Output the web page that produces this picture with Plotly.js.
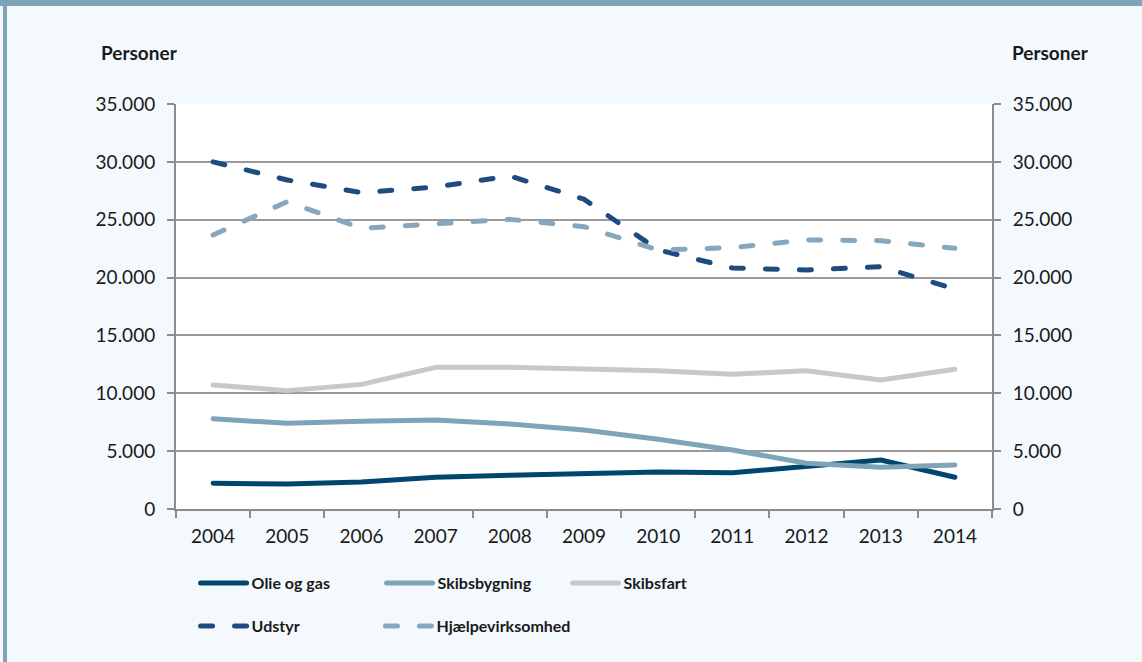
<!DOCTYPE html>
<html>
<head>
<meta charset="utf-8">
<script src="https://cdn.plot.ly/plotly-3.0.1.min.js"></script>
<style>
  html, body { margin: 0; padding: 0; background: #f4f9fd; }
  #chart { width: 1142px; height: 662px; }
  path.js-line { stroke-linecap: round; stroke-linejoin: round; }
</style>
</head>
<body>
<div id="chart"></div>
<script>
const years = ['2004','2005','2006','2007','2008','2009','2010','2011','2012','2013','2014'];
const olieOgGas = [2220, 2160, 2330, 2740, 2910, 3080, 3200, 3140, 3720, 4230, 2740];
const skibsbygning = [7800, 7400, 7580, 7690, 7350, 6830, 6020, 5100, 3950, 3600, 3800];
const skibsfart = [10720, 10230, 10770, 12240, 12240, 12070, 11950, 11640, 11950, 11150, 12070];
const udstyr = [30000, 28430, 27340, 27830, 28780, 26770, 22390, 20830, 20650, 20940, 19010];
const hjaelpevirksomhed = [23680, 26560, 24260, 24690, 25030, 24400, 22380, 22590, 23250, 23190, 22530];
const yTicks = [0, 5000, 10000, 15000, 20000, 25000, 30000, 35000];
const axisTitle = 'Personer';

const FONT = 'Lato, "Open Sans", "DejaVu Sans", sans-serif';
const DASH = '12px,22px';

function tr(name, y, color, dash, legend) {
  return {
    type: 'scatter', mode: 'lines', name: name, x: years, y: y,
    line: { color: color, width: 5, dash: dash || 'solid' },
    legend: legend, hoverinfo: 'skip'
  };
}

const data = [
  // invisible helper so the right-hand (mirrored) axis gets drawn
  { type: 'scatter', mode: 'lines', x: years, y: udstyr, yaxis: 'y2',
    line: { width: 0, color: 'rgba(0,0,0,0)' }, opacity: 0,
    showlegend: false, hoverinfo: 'skip' },
  tr('Olie og gas', olieOgGas, '#00466e', null, 'legend'),
  tr('Skibsbygning', skibsbygning, '#7fa3b9', null, 'legend'),
  tr('Skibsfart', skibsfart, '#c8c8c8', null, 'legend'),
  tr('Udstyr', udstyr, '#1e4c80', DASH, 'legend2'),
  tr('Hjælpevirksomhed', hjaelpevirksomhed, '#86a7bd', DASH, 'legend3')
];

const yAxisCommon = {
  range: [0, 35000], tickvals: yTicks, tickformat: ',d',
  ticks: 'outside', ticklen: 7, tickwidth: 2, tickcolor: '#8c8c8c',
  ticklabelstandoff: 8,
  showline: true, linecolor: '#8c8c8c', linewidth: 2,
  tickfont: { family: FONT, size: 19, color: '#1a1a1a' },
  zeroline: false, fixedrange: true
};

const legendCommon = {
  orientation: 'h', xanchor: 'left', yanchor: 'middle',
  bgcolor: 'rgba(0,0,0,0)', borderwidth: 0,
  font: { family: FONT, size: 16, color: '#1a1a1a', weight: 'bold' },
  itemwidth: 46, traceorder: 'normal'
};

const layout = {
  width: 1142, height: 662,
  paper_bgcolor: '#f4f9fd', plot_bgcolor: '#ffffff',
  margin: { l: 176, r: 150, t: 104, b: 153, pad: 0 },
  separators: ',.',
  showlegend: true,
  font: { family: FONT, color: '#1a1a1a' },
  xaxis: {
    type: 'category', range: [-0.5, 10.5], tickson: 'boundaries',
    ticks: 'outside', ticklen: 7, tickwidth: 2, tickcolor: '#8c8c8c',
    ticklabelstandoff: 9,
    showline: true, linecolor: '#8c8c8c', linewidth: 2, showgrid: false,
    tickfont: { family: FONT, size: 19, color: '#1a1a1a' }, fixedrange: true
  },
  yaxis: Object.assign({}, yAxisCommon, {
    side: 'left', showgrid: true, gridcolor: '#9a9a9a', gridwidth: 2
  }),
  yaxis2: Object.assign({}, yAxisCommon, {
    side: 'right', overlaying: 'y', anchor: 'x', showgrid: false
  }),
  legend: Object.assign({}, legendCommon, {
    x: 0.024, y: -0.183, entrywidth: 125, entrywidthmode: 'pixels'
  }),
  legend2: Object.assign({}, legendCommon, { x: 0.024, y: -0.289 }),
  legend3: Object.assign({}, legendCommon, { x: 0.2506, y: -0.289 }),
  annotations: [
    { text: axisTitle, xref: 'paper', yref: 'paper', x: -0.0453, y: 1.126,
      xanchor: 'center', yanchor: 'middle', showarrow: false,
      font: { family: FONT, size: 19, color: '#1a1a1a', weight: 'bold' } },
    { text: axisTitle, xref: 'paper', yref: 'paper', x: 1.0711, y: 1.126,
      xanchor: 'center', yanchor: 'middle', showarrow: false,
      font: { family: FONT, size: 19, color: '#1a1a1a', weight: 'bold' } }
  ],
  shapes: [
    { type: 'rect', xref: 'paper', yref: 'paper', layer: 'above',
      x0: -0.2157, x1: 1.1838, y0: 1.2420, y1: 1.2568,
      fillcolor: '#7fa3b9', line: { width: 0 } },
    { type: 'rect', xref: 'paper', yref: 'paper', layer: 'above',
      x0: -0.2120, x1: -0.2071, y0: -0.378, y1: 1.2568,
      fillcolor: '#7fa3b9', line: { width: 0 } }
  ]
};

Plotly.newPlot('chart', data, layout, { displayModeBar: false, staticPlot: true });
</script>
</body>
</html>
